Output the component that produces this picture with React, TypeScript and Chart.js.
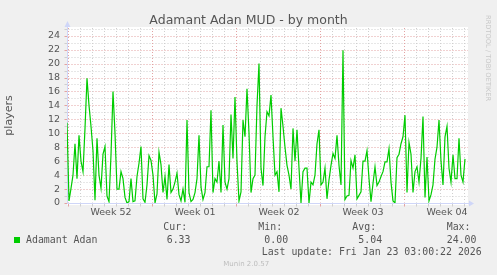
import React, { useEffect, useRef } from 'react';
import { Chart, registerables } from 'chart.js';

Chart.register(...registerables);

// ---- data ----
// players, one sample every 4 hours from the left edge of the graph
const players: number[] = [
  11.5, 0.3, 2.1, 4.0, 8.5, 3.5, 9.7, 6.0, 4.5, 10.7,
  17.9, 14.0, 11.0, 7.5, 0.4, 9.3, 4.0, 2.1, 7.0, 8.1,
  1.0, 0.2, 6.9, 16.0, 10.0, 2.0, 2.0, 4.5, 3.5, 0.8,
  0.0, 0.2, 3.5, 0.2, 0.3, 3.8, 5.7, 8.1, 0.6, 0.1,
  2.6, 6.8, 6.1, 4.0, 0.0, 1.3, 7.3, 5.5, 1.5, 3.8,
  0.5, 5.5, 1.5, 2.0, 3.0, 4.3, 1.2, 0.3, 2.0, 0.1,
  11.9, 1.5, 0.2, 0.5, 1.5, 3.5, 9.7, 2.3, 0.5, 1.5,
  5.2, 5.2, 13.3, 1.5, 3.5, 3.0, 6.0, 1.5, 11.2, 3.0,
  2.0, 3.5, 12.7, 6.4, 15.2, 5.9, 0.3, 1.6, 11.9, 9.5,
  16.4, 10.0, 1.5, 3.5, 4.0, 14.0, 20.0, 5.0, 2.5, 9.5,
  13.1, 12.5, 15.5, 9.5, 4.0, 4.5, 1.6, 13.6, 11.0, 8.0,
  5.4, 4.0, 2.0, 10.7, 6.0, 10.5, 5.0, 0.0, 4.5, 5.0,
  5.0, 0.0, 3.0, 2.6, 4.0, 8.5, 10.5, 2.6, 3.0, 5.0,
  0.6, 3.3, 5.4, 7.1, 6.4, 9.7, 5.4, 2.6, 21.9, 0.5,
  1.0, 1.1, 6.1, 5.0, 6.9, 0.6, 1.1, 1.6, 6.0, 6.0,
  7.5, 3.5, 0.2, 2.8, 5.2, 2.5, 3.0, 3.8, 4.5, 5.9,
  5.9, 7.8, 3.0, 0.3, 0.0, 6.5, 7.0, 8.5, 9.5, 12.6,
  1.5, 8.7, 7.0, 1.5, 4.5, 5.2, 3.0, 6.4, 12.4, 0.8,
  6.6, 0.3, 1.2, 2.6, 6.3, 8.0, 11.9, 6.0, 2.6, 9.5,
  11.0, 5.0, 3.0, 6.9, 3.5, 3.5, 9.3, 4.0, 3.0, 6.33,
];
const sampleStepHours = 4;
const spanHours = 802;
const dayStepHours = 24;
const weekStartHours = [2, 170, 338, 506, 674];
const weekLabelHours = [88, 256, 424, 592, 760];
const weekLabels = ['Week 52', 'Week 01', 'Week 02', 'Week 03', 'Week 04'];
const yMax = 25.1;
const yMinorStep = 1;
const yLabelStep = 2;

const chartTitle = 'Adamant Adan MUD - by month';
const yTitle = 'players';
const seriesName = 'Adamant Adan';
const statNames = ['Cur:', 'Min:', 'Avg:', 'Max:'];
const statValues = ['6.33', '0.00', '5.04', '24.00'];
const lastUpdate = 'Last update: Fri Jan 23 03:00:22 2026';
const versionText = 'Munin 2.0.57';
const watermark = 'RRDTOOL / TOBI OETIKER';

// ---- styles ----
const GREEN = '#00cc00';
const MAJOR = '#e3a3a3';
const MINOR = '#cfcfcf';
const AXIS = '#cfd6f8';
const FONT_COLOR = '#555555';
const SANS = '"DejaVu Sans", sans-serif';
const MONO = '"DejaVu Sans Mono", monospace';

const muninGrid = {
  id: 'muninGrid',
  beforeDatasetsDraw(chart: any) {
    const { ctx, chartArea: a, scales } = chart;
    const xs = scales.x;
    const ys = scales.y;
    const L = Math.round(a.left) + 0.5;
    const B = Math.round(a.bottom) + 0.5;
    ctx.save();
    ctx.fillStyle = '#ffffff';
    ctx.fillRect(a.left, a.top - 1, a.right - a.left, a.bottom - a.top + 3);
    ctx.lineWidth = 1;
    // horizontal grid
    for (let v = 0; v <= yMax; v += yMinorStep) {
      const py = Math.round(ys.getPixelForValue(v)) + 0.5;
      ctx.strokeStyle = v % yLabelStep === 0 ? MAJOR : MINOR;
      if (v > 0) {
        ctx.setLineDash([1, 2]);
        ctx.beginPath();
        ctx.moveTo(L + 1, py);
        ctx.lineTo(a.right, py);
        ctx.stroke();
      }
      ctx.setLineDash([]);
      ctx.beginPath();
      ctx.moveTo(L - 3, py);
      ctx.lineTo(L, py);
      ctx.stroke();
    }
    // vertical grid (days, weeks)
    for (let h = weekStartHours[0] % dayStepHours; h <= spanHours; h += dayStepHours) {
      const px = Math.round(xs.getPixelForValue(h)) + 0.5;
      ctx.strokeStyle = weekStartHours.includes(h) ? MAJOR : MINOR;
      ctx.setLineDash([1, 2]);
      ctx.beginPath();
      ctx.moveTo(px, a.top);
      ctx.lineTo(px, B - 1);
      ctx.stroke();
      ctx.setLineDash([]);
      ctx.beginPath();
      ctx.moveTo(px, B);
      ctx.lineTo(px, B + 3);
      ctx.stroke();
    }
    // axes
    ctx.strokeStyle = AXIS;
    ctx.beginPath();
    ctx.moveTo(L, B);
    ctx.lineTo(L, a.top - 1);
    ctx.moveTo(L, B);
    ctx.lineTo(a.right + 1, B);
    ctx.stroke();
    ctx.fillStyle = AXIS;
    ctx.beginPath();
    ctx.moveTo(L, a.top - 7);
    ctx.lineTo(L - 3, a.top - 1);
    ctx.lineTo(L + 3, a.top - 1);
    ctx.closePath();
    ctx.fill();
    ctx.beginPath();
    ctx.moveTo(a.right + 6, B);
    ctx.lineTo(a.right + 1, B - 3);
    ctx.lineTo(a.right + 1, B + 3);
    ctx.closePath();
    ctx.fill();
    ctx.restore();
  },
};

export default function App() {
  const ref = useRef<HTMLCanvasElement | null>(null);

  useEffect(() => {
    const canvas = ref.current;
    if (!canvas) return;
    const chart = new Chart(canvas, {
      type: 'line',
      data: {
        datasets: [
          {
            label: seriesName,
            data: players.map((v, i) => ({ x: i * sampleStepHours, y: v })),
            borderColor: GREEN,
            borderWidth: 1.2,
            pointRadius: 0,
            tension: 0,
            fill: false,
          },
        ],
      },
      options: {
        animation: false,
        responsive: false,
        devicePixelRatio: 1,
        events: [],
        layout: { padding: { top: 0, left: 0, right: 0, bottom: 52 } },
        plugins: {
          legend: { display: false },
          tooltip: { enabled: false },
          title: {
            display: true,
            text: chartTitle,
            color: FONT_COLOR,
            font: { family: SANS, size: 12.5, weight: 'normal' },
            padding: { top: 13, bottom: 0 },
          },
        },
        scales: {
          x: {
            type: 'linear',
            min: 0,
            max: spanHours,
            grid: { display: false, drawTicks: false },
            border: { display: false },
            afterBuildTicks: (s: any) => {
              s.ticks = weekLabelHours.map((v) => ({ value: v }));
            },
            afterFit: (s: any) => {
              s.height = 20;
            },
            ticks: {
              autoSkip: false,
              maxRotation: 0,
              minRotation: 0,
              padding: 4,
              color: FONT_COLOR,
              font: { family: SANS, size: 9.5 },
              callback: (_v: any, i: number) => weekLabels[i],
            },
          },
          y: {
            type: 'linear',
            position: 'left',
            min: 0,
            max: yMax,
            grid: { display: false, drawTicks: false },
            border: { display: false },
            afterFit: (s: any) => {
              s.width = 67;
            },
            ticks: {
              stepSize: yMinorStep,
              autoSkip: false,
              includeBounds: false,
              padding: 7,
              color: FONT_COLOR,
              font: { family: SANS, size: 9.5 },
              callback: (v: any) => (Number(v) % yLabelStep === 0 ? String(v) : ''),
            },
            title: {
              display: true,
              text: yTitle,
              color: FONT_COLOR,
              font: { family: SANS, size: 11 },
              padding: { top: 2.5, bottom: 0 },
            },
          },
          yR: {
            type: 'linear',
            position: 'right',
            display: true,
            grid: { display: false, drawTicks: false },
            border: { display: false },
            ticks: { display: false },
            afterFit: (s: any) => {
              s.width = 29;
            },
          },
        },
      },
      plugins: [muninGrid],
    } as any);
    return () => chart.destroy();
  }, []);

  const statHeadLeft = [163.3, 258.3, 352.3, 446.7];
  const statValueLeft = [166.7, 264.3, 358.3, 446.7];
  const monoStyle: React.CSSProperties = {
    position: 'absolute',
    fontFamily: MONO,
    fontSize: 9.9,
    lineHeight: 1,
    color: FONT_COLOR,
    whiteSpace: 'pre',
  };

  return (
    <div
      style={{
        position: 'absolute',
        left: 0,
        top: 0,
        width: 497,
        height: 275,
        background: '#f0f0f0',
        overflow: 'hidden',
      }}
    >
      <canvas ref={ref} width={497} height={275} style={{ display: 'block', width: 497, height: 275 }} />
      {statNames.map((s, i) => (
        <div key={'h' + i} style={{ ...monoStyle, left: statHeadLeft[i], top: 222.3 }}>
          {s}
        </div>
      ))}
      <div style={{ position: 'absolute', left: 14, top: 237, width: 6, height: 6, background: GREEN }} />
      <div style={{ ...monoStyle, left: 26, top: 234.9 }}>{seriesName}</div>
      {statValues.map((s, i) => (
        <div key={'v' + i} style={{ ...monoStyle, left: statValueLeft[i], top: 234.9 }}>
          {s}
        </div>
      ))}
      <div style={{ ...monoStyle, left: 261.7, top: 246.6 }}>{lastUpdate}</div>
      <div
        style={{
          position: 'absolute',
          left: 223.3,
          top: 260.8,
          fontFamily: SANS,
          fontSize: 7,
          lineHeight: 1,
          color: '#bdbdbd',
          whiteSpace: 'pre',
        }}
      >
        {versionText}
      </div>
      <div
        style={{
          position: 'absolute',
          left: 484.6,
          top: 15,
          fontFamily: SANS,
          fontSize: 6.7,
          lineHeight: 1,
          color: '#c8c8c8',
          whiteSpace: 'pre',
          writingMode: 'vertical-rl',
        }}
      >
        {watermark}
      </div>
    </div>
  );
}
